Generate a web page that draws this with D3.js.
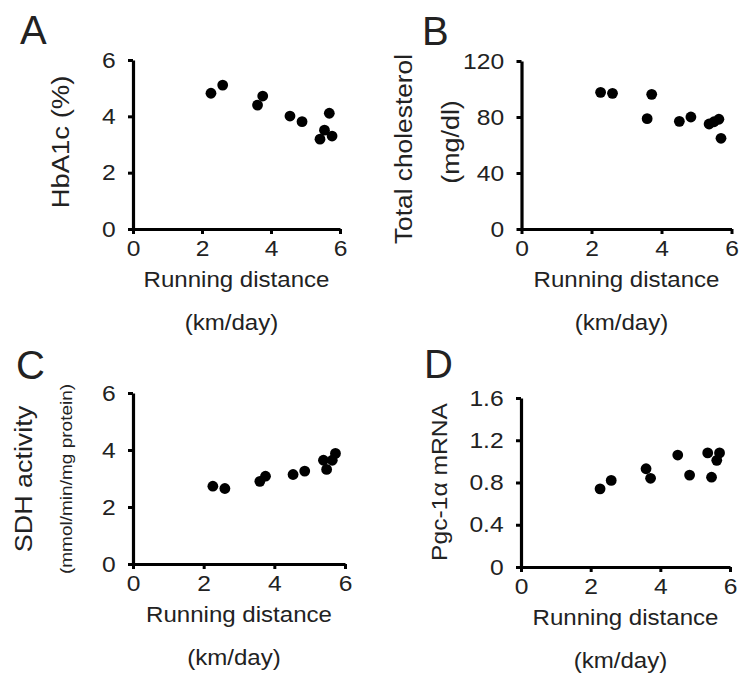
<!DOCTYPE html>
<html>
<head>
<meta charset="utf-8">
<script src="https://cdn.jsdelivr.net/npm/d3@7"></script>
<style>
  body { margin: 0; background: #fff; }
  svg text { font-family: "Liberation Sans", Arial, sans-serif; fill: #222; }
</style>
</head>
<body>
<svg id="fig" width="750" height="680"></svg>
<script>
// data (one dot per mouse)
var xTicks = [0, 2, 4, 6];

var distA = [2.26, 2.60, 3.61, 3.76, 4.55, 4.90, 5.69, 5.55, 5.42, 5.77];
var hba1c = [4.82, 5.11, 4.40, 4.72, 4.01, 3.81, 4.11, 3.51, 3.19, 3.30];
var ticksA = [0, 2, 4, 6];

var distB = [2.26, 2.60, 3.72, 3.59, 4.51, 4.84, 5.36, 5.50, 5.64, 5.70];
var cholesterol = [97.6, 96.9, 96.2, 78.8, 76.9, 80.0, 75.0, 76.6, 78.4, 64.8];
var ticksB = [0, 40, 80, 120];

var distC = [2.26, 2.60, 3.59, 3.75, 4.53, 4.86, 5.39, 5.48, 5.64, 5.73];
var sdh = [2.73, 2.65, 2.90, 3.08, 3.14, 3.26, 3.64, 3.32, 3.64, 3.88];
var ticksC = [0, 2, 4, 6];

var distD = [2.27, 2.59, 3.59, 3.72, 4.50, 4.84, 5.36, 5.47, 5.70, 5.62];
var pgc = [0.74, 0.82, 0.93, 0.84, 1.06, 0.87, 1.08, 0.85, 1.08, 1.01];
var ticksD = [0, 0.4, 0.8, 1.2, 1.6];

var svg = d3.select("#fig");
var stretch = 1.12; // the figure's type runs a bit wider than Arial

function panel(opt) {
  var x = d3.scaleLinear().domain([0, 6]).range([opt.left, opt.right]);
  var y = d3.scaleLinear().domain([0, d3.max(opt.yTicks)]).range([opt.bottom, opt.top]);

  var g = svg.append("g");

  // panel letter
  g.append("text")
    .attr("x", opt.letterX)
    .attr("y", opt.letterY)
    .attr("font-size", "40px")
    .text(opt.letter);

  var xAxis = d3.axisBottom(x)
    .tickValues(xTicks)
    .tickSize(5)
    .tickSizeOuter(0)
    .tickPadding(6)
    .tickFormat(function(d) { return d; });

  var yAxis = d3.axisLeft(y)
    .tickValues(opt.yTicks)
    .tickSize(5)
    .tickSizeOuter(0)
    .tickPadding(10.5)
    .tickFormat(function(d) { return d; });

  var gx = g.append("g")
    .attr("transform", "translate(0," + opt.bottom + ")")
    .call(xAxis);

  var gy = g.append("g")
    .attr("transform", "translate(" + opt.left + ",0)")
    .call(yAxis);

  [gx, gy].forEach(function(a) {
    a.select(".domain").attr("stroke", "#000").attr("stroke-width", 3.2);
    a.selectAll(".tick line").attr("stroke", "#000").attr("stroke-width", 3);
    a.selectAll(".tick text")
      .attr("font-size", "22px")
      .attr("font-family", "'Liberation Sans', Arial, sans-serif")
      .attr("fill", "#222")
      .attr("transform", "scale(" + stretch + ",1)");
  });

  // x title in two lines
  var cx = (opt.left + opt.right) / 2;
  g.append("text")
    .attr("transform", "translate(" + cx + "," + (opt.bottom + 58) + ") scale(" + stretch + ",1)")
    .attr("text-anchor", "middle")
    .attr("font-size", "21.5px")
    .text("Running distance");
  g.append("text")
    .attr("transform", "translate(" + (cx - 5) + "," + (opt.bottom + 101) + ") scale(" + stretch + ",1)")
    .attr("text-anchor", "middle")
    .attr("font-size", "21.5px")
    .text("(km/day)");

  // y titles
  opt.yTitles.forEach(function(t) {
    g.append("text")
      .attr("transform", "translate(" + t.x + "," + t.y + ") rotate(-90) scale(" + stretch + ",1)")
      .attr("text-anchor", "middle")
      .attr("font-size", t.size + "px")
      .text(t.text);
  });

  // dots
  g.selectAll("circle")
    .data(opt.xs.map(function(d, i) { return [d, opt.ys[i]]; }))
    .enter()
    .append("circle")
    .attr("cx", function(d) { return x(d[0]); })
    .attr("cy", function(d) { return y(d[1]); })
    .attr("r", 5.4)
    .attr("fill", "#000");
}

panel({
  letter: "A", letterX: 20, letterY: 44,
  left: 133, right: 340, top: 60, bottom: 229,
  yTicks: ticksA, xs: distA, ys: hba1c,
  yTitles: [{text: "HbA1c (%)", x: 69, y: 142, size: 24.5}]
});

panel({
  letter: "B", letterX: 422, letterY: 45,
  left: 521.5, right: 731.5, top: 61, bottom: 229,
  yTicks: ticksB, xs: distB, ys: cholesterol,
  yTitles: [
    {text: "Total cholesterol", x: 412, y: 149, size: 23.5},
    {text: "(mg/dl)", x: 458.5, y: 142, size: 24}
  ]
});

panel({
  letter: "C", letterX: 16, letterY: 379,
  left: 133, right: 345, top: 393, bottom: 564,
  yTicks: ticksC, xs: distC, ys: sdh,
  yTitles: [
    {text: "SDH activity", x: 32, y: 479, size: 24},
    {text: "(mmol/min/mg protein)", x: 72, y: 479, size: 17}
  ]
});

panel({
  letter: "D", letterX: 424, letterY: 378,
  left: 521, right: 730, top: 398, bottom: 567,
  yTicks: ticksD, xs: distD, ys: pgc,
  yTitles: [{text: "Pgc-1\u03b1 mRNA", x: 447, y: 482, size: 22}]
});
</script>
</body>
</html>
